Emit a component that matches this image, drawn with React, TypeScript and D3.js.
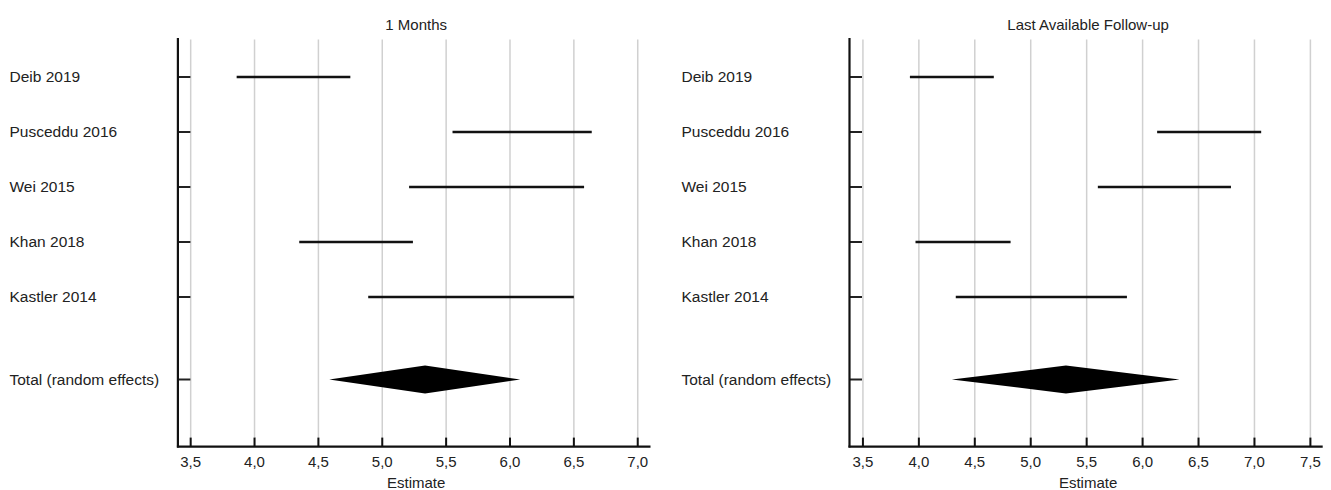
import React from "react";
import * as d3 from "d3";

// study labels (top to bottom)
const studies = ["Deib 2019", "Pusceddu 2016", "Wei 2015", "Khan 2018", "Kastler 2014"];
const totalLabel = "Total (random effects)";

// 1 month estimates: 95% CI
const monthLow = [3.86, 5.55, 5.21, 4.35, 4.89];
const monthHigh = [4.75, 6.64, 6.58, 5.24, 6.5];
const monthTotal = [4.585, 5.335, 6.08]; // low, estimate, high

// last available follow-up
const lastLow = [3.92, 6.13, 5.6, 3.97, 4.33];
const lastHigh = [4.67, 7.06, 6.79, 4.82, 5.86];
const lastTotal = [4.295, 5.315, 6.33];

const monthTicks = [3.5, 4.0, 4.5, 5.0, 5.5, 6.0, 6.5, 7.0];
const lastTicks = [3.5, 4.0, 4.5, 5.0, 5.5, 6.0, 6.5, 7.0, 7.5];

const font = "Arial, 'Liberation Sans', sans-serif";
const fmt = (v) => d3.format(".1f")(v).replace(".", ",");

function Panel({ title, left, right, domain, ticks, low, high, total, labelX }) {
  const x = d3.scaleLinear().domain(domain).range([left, right]);
  // rows 1..5 are studies, 6.5 is the pooled estimate
  const y = d3.scaleLinear().domain([1, 6.5]).range([77, 379.5]);
  const top = y(0.29);
  const bottom = y(7.72);
  const rows = studies.map((s, i) => ({ name: s, row: i + 1, lo: low[i], hi: high[i] }));
  const yt = y(6.5);
  const diamond = d3.line()([
    [x(total[0]), yt],
    [x(total[1]), yt - 14],
    [x(total[2]), yt],
    [x(total[1]), yt + 14],
  ]) + "Z";

  return (
    <g fontFamily={font}>
      <text x={(left + right) / 2 + 2} y={30} textAnchor="middle" fontSize={15} fill="#222">
        {title}
      </text>
      {/* grid */}
      {ticks.map((t) => (
        <line key={"g" + t} x1={x(t)} x2={x(t)} y1={top + 1.5} y2={bottom} stroke="#d0d0d0" strokeWidth={1.5} />
      ))}
      {/* study rows */}
      {rows.map((r) => (
        <g key={r.name}>
          <text x={labelX} y={y(r.row)} dy="0.35em" fontSize={15.5} fill="#222">{r.name}</text>
          <line x1={left} x2={left + 12.5} y1={y(r.row)} y2={y(r.row)} stroke="#222" strokeWidth={2} />
          <line x1={x(r.lo)} x2={x(r.hi)} y1={y(r.row)} y2={y(r.row)} stroke="#111" strokeWidth={2.6} />
        </g>
      ))}
      <text x={labelX} y={yt} dy="0.35em" fontSize={15.5} fill="#222">{totalLabel}</text>
      <line x1={left} x2={left + 12.5} y1={yt} y2={yt} stroke="#222" strokeWidth={2} />
      <path d={diamond} fill="#000" />
      {/* axes */}
      <line x1={left} x2={left} y1={top} y2={bottom + 1} stroke="#111" strokeWidth={2.2} />
      <line x1={left - 1} x2={right} y1={bottom} y2={bottom} stroke="#111" strokeWidth={2.2} />
      {ticks.map((t) => (
        <g key={"t" + t}>
          <line x1={x(t)} x2={x(t)} y1={bottom} y2={bottom - 9} stroke="#111" strokeWidth={2} />
          <text x={x(t)} y={467} textAnchor="middle" fontSize={15} fill="#222">{fmt(t)}</text>
        </g>
      ))}
      <text x={(left + right) / 2 + 2} y={488} textAnchor="middle" fontSize={15} fill="#222">Estimate</text>
    </g>
  );
}

export default function App() {
  return (
    <svg width={1331} height={490} style={{ position: "absolute", left: 0, top: 0, background: "#fff" }}>
      <rect width={1331} height={490} fill="#fff" />
      <Panel title="1 Months" left={177.9} right={650.5} domain={[3.4, 7.1]} ticks={monthTicks}
        low={monthLow} high={monthHigh} total={monthTotal} labelX={9.5} />
      <Panel title="Last Available Follow-up" left={849.5} right={1322.7} domain={[3.38, 7.61]} ticks={lastTicks}
        low={lastLow} high={lastHigh} total={lastTotal} labelX={681.5} />
    </svg>
  );
}
